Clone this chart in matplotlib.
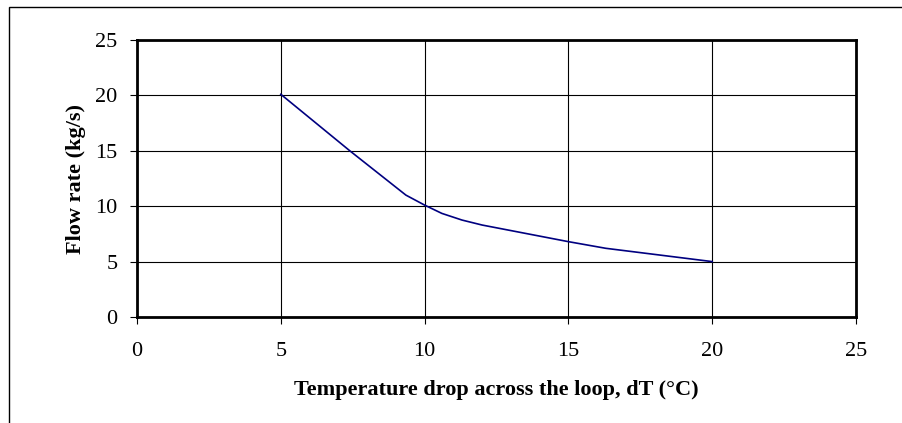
import matplotlib
matplotlib.use("Agg")
import matplotlib.pyplot as plt
from matplotlib.patches import Rectangle

dT = [5, 7.4, 9.35, 10, 10.6, 11.3, 12, 15, 16.3, 20]
flow = [20.1, 15.0, 11.0, 10.1, 9.35, 8.75, 8.3, 6.8, 6.2, 5.0]
x_ticks = [0, 5, 10, 15, 20, 25]
y_ticks = [0, 5, 10, 15, 20, 25]

plt.rcParams['font.family'] = ['Liberation Serif', 'DejaVu Serif']

W, H = 903, 423
fig = plt.figure(figsize=(W / 100, H / 100), dpi=100)
fig.patch.set_facecolor('white')

# outer chart border (only top/left visible)
fig.patches.append(Rectangle((8.5 / W, -0.05), 1.2, 1 - 7.5 / H + 0.05,
                             transform=fig.transFigure, fill=False,
                             edgecolor='black', linewidth=1.0))

ax = fig.add_axes([137 / W, 1 - 317 / H, (856 - 137) / W, (317 - 40) / H])
ax.plot(dT, flow, color='#000080', linewidth=1.2)
ax.set_xlim(0, 25)
ax.set_ylim(0, 25)
ax.set_xticks(x_ticks)
ax.set_yticks(y_ticks)
ax.grid(True, color='black', linewidth=0.8)
ax.set_axisbelow(True)
for s in ax.spines.values():
    s.set_linewidth(2.0)
    s.set_color('black')
ax.tick_params(direction='out', length=5, width=0.8, labelsize=16)
ax.tick_params(axis='x', pad=13)
ax.tick_params(axis='y', pad=9)
ax.set_xlabel('Temperature drop across the loop, dT (°C)', fontsize=16,
              fontweight='bold', labelpad=14)
ax.set_ylabel('Flow rate (kg/s)', fontsize=16, fontweight='bold', labelpad=7)

fig.savefig('out.png', dpi=100)
